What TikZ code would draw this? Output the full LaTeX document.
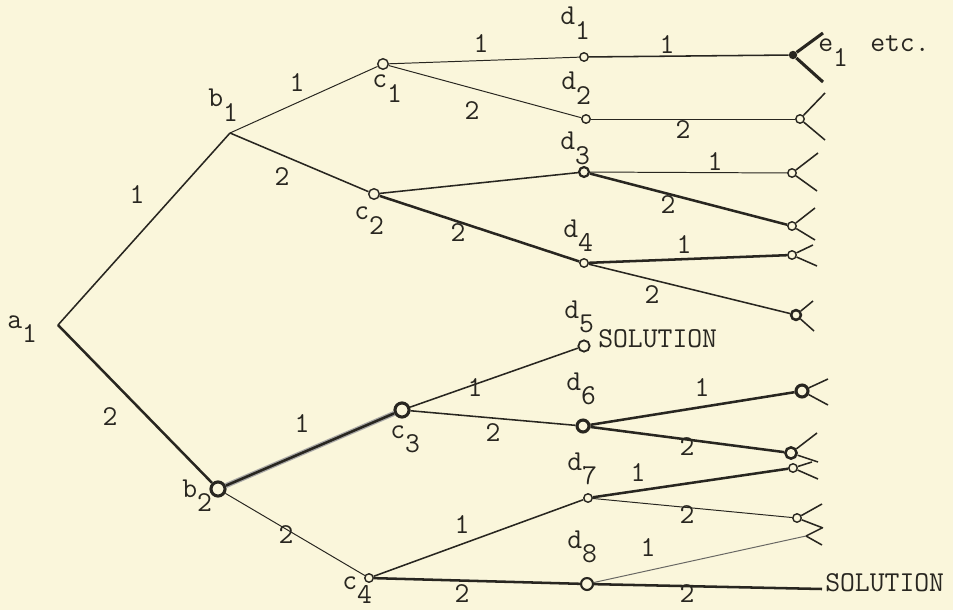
\documentclass[tikz,border=0pt]{standalone}
\usepackage{fontspec}
\usetikzlibrary{positioning}
\definecolor{paper}{RGB}{250,246,219}
\definecolor{ink}{RGB}{40,38,32}
\newcommand{\sbs}[2]{#1\raisebox{-0.5em}{#2}}

\begin{document}
\begin{tikzpicture}[x=0.025cm, y=-0.025cm, font=\ttfamily\fontsize{20.5}{22}\selectfont, color=ink,
    dot/.style={circle, draw=ink, fill=paper, line width=1pt, inner sep=0pt, minimum size=6pt},
    bigdot/.style={dot, line width=2.2pt, minimum size=9pt},
    blob/.style={circle, fill=ink, inner sep=0pt, minimum size=6pt},
    lbl/.style={anchor=base west, inner sep=0pt},
    wt/.style={inner sep=0pt},
    thn/.style={draw=ink, line width=0.7pt},
    med/.style={draw=ink, line width=1.1pt},
    thk/.style={draw=ink, line width=1.8pt},
    fork/.style={draw=ink, line width=1.1pt}]
    \fill[paper] (0,0) rectangle (953,610);
    \useasboundingbox (0,0) rectangle (953,610);

    % vertices
    \coordinate (a1) at (58,325);
    \coordinate (b1) at (230,133);
    \node[bigdot, minimum size=10pt] (b2) at (218,489) {};
    \node[dot, minimum size=7.5pt] (c1) at (383,64) {};
    \node[dot, minimum size=7.5pt] (c2) at (374,194) {};
    \node[bigdot, minimum size=10pt] (c3) at (402,410) {};
    \node[dot] (c4) at (369,578) {};
    \node[dot] (d1) at (584,57) {};
    \node[dot] (d2) at (586,119) {};
    \node[dot, line width=1.6pt, minimum size=7pt] (d3) at (584,172) {};
    \node[dot] (d4) at (584,263) {};
    \node[dot, line width=1.3pt, minimum size=8pt] (d5) at (584,346) {};
    \node[bigdot, minimum size=8.5pt] (d6) at (583,426) {};
    \node[dot] (d7) at (588,498) {};
    \node[dot, line width=1.5pt, minimum size=8.5pt] (d8) at (587,584) {};

    % ends
    \node[blob] (e1) at (793,55) {};
    \node[dot] (f2) at (800,119) {};
    \node[dot] (f3) at (792,173) {};
    \node[dot] (f4) at (792,226) {};
    \node[dot] (f5) at (792,255) {};
    \node[dot, line width=1.8pt, minimum size=7pt] (f6) at (796,315) {};
    \node[bigdot, minimum size=8.5pt] (f7) at (802,391) {};
    \node[dot, line width=1.8pt, minimum size=8pt] (f8) at (791,453) {};
    \node[dot] (f9) at (793,468) {};
    \node[dot] (f10) at (797,518) {};
    \coordinate (f11) at (806,536);
    \coordinate (f12) at (822,589);

    % branches
    \draw[med] (a1) -- (b1);
    \draw[thk] (a1) -- (b2);
    \draw[thn] (b1) -- (c1);
    \draw[med] (b1) -- (c2);
    \draw[line width=3.6pt, draw=ink!40] (b2) -- (c3);
    \draw[thk] (b2) -- (c3);
    \draw[thn] (b2) -- (c4);
    \draw[thn] (c1) -- (d1);
    \draw[thn] (c1) -- (d2);
    \draw[med] (c2) -- (d3);
    \draw[thk] (c2) -- (d4);
    \draw[med] (c3) -- (d5);
    \draw[med] (c3) -- (d6);
    \draw[med] (c4) -- (d7);
    \draw[thk] (c4) -- (d8);
    \draw[med] (d1) -- (e1);
    \draw[thn] (d2) -- (f2);
    \draw[thn] (d3) -- (f3);
    \draw[thk] (d3) -- (f4);
    \draw[thk] (d4) -- (f5);
    \draw[med] (d4) -- (f6);
    \draw[thk] (d6) -- (f7);
    \draw[thk] (d6) -- (f8);
    \draw[thk] (d7) -- (f9);
    \draw[thn] (d7) -- (f10);
    \draw[thn, draw=ink!70] (d8) -- (f11);
    \draw[thk] (d8) -- (f12);

    % forks at the far ends
    \draw[fork, line width=2.2pt] (e1) -- +(30,-22) (e1) -- +(30,27);
    \foreach \n/\ux/\uy/\dx/\dy in {f2/25/-26/25/21, f3/26/-20/25/18, f4/23/-18/23/14,
        f5/21/-10/25/11, f6/17/-14/18/16, f7/26/-12/26/14, f8/26/-20/27/9,
        f9/19/-6/25/11, f10/25/-14/26/10, f11/16/-8/16/9}
      \draw[fork] (\n) -- +(\ux,\uy) (\n) -- +(\dx,\dy);

    % names
    \node[lbl] (la1) at (7,328) {\sbs{a}{1}};
    \node[lbl] (lb1) at (208,107) {\sbs{b}{1}};
    \node[lbl] (lb2) at (182,497) {\sbs{b}{2}};
    \node[lbl] (lc1) at (372,88) {\sbs{c}{1}};
    \node[lbl] (lc2) at (354,220) {\sbs{c}{2}};
    \node[lbl] (lc3) at (390,438) {\sbs{c}{3}};
    \node[lbl] (lc4) at (342,589) {\sbs{c}{4}};
    \node[lbl] (ld1) at (560,25) {\sbs{d}{1}};
    \node[lbl] (ld2) at (561,90) {\sbs{d}{2}};
    \node[lbl] (ld3) at (560,150) {\sbs{d}{3}};
    \node[lbl] (ld4) at (563,237) {\sbs{d}{4}};
    \node[lbl] (ld5) at (564,318) {\sbs{d}{5}};
    \node[lbl] (ld6) at (566,390) {\sbs{d}{6}};
    \node[lbl] (ld7) at (567,470) {\sbs{d}{7}};
    \node[lbl] (ld8) at (567,548) {\sbs{d}{8}};
    \node[lbl] (le1) at (818,52) {\sbs{e}{1}};
    \node[lbl] (etc) at (870,52) {etc.};
    \node[lbl] (sol1) at (598,347) {SOLUTION};
    \node[lbl] (sol2) at (825,591) {SOLUTION};

    % branch weights
    \foreach \x/\y/\t [count=\i] in {137/195/1, 110/417/2, 297/83/1, 282/177/2,
        302/424/1, 286/535/2, 481/44/1, 472/111/2, 458/233/2, 475/388/1,
        493/433/2, 462/525/1, 462/594/2, 667/45/1, 683/130/2, 715/162/1,
        668/205/2, 684/245/1, 652/295/2, 702/388/1, 687/447/2, 638/473/1,
        687/515/2, 648/548/1, 687/594/2}
      \node[wt] (w\i) at (\x,\y) {\t};
\end{tikzpicture}
\end{document}
